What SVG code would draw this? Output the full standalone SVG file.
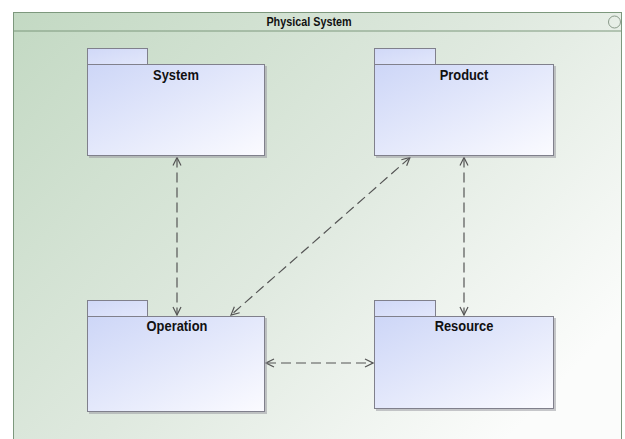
<svg xmlns="http://www.w3.org/2000/svg" width="625" height="439" viewBox="0 0 625 439">
  <defs>
    <linearGradient id="bg" x1="0" y1="0" x2="1" y2="0.7">
      <stop offset="0" stop-color="#c3d9c3"/>
      <stop offset="0.55" stop-color="#dfe9df"/>
      <stop offset="1" stop-color="#fbfcfb"/>
    </linearGradient>
    <linearGradient id="pkg" x1="0" y1="0" x2="1" y2="1">
      <stop offset="0" stop-color="#cdd6f7"/>
      <stop offset="1" stop-color="#fbfbff"/>
    </linearGradient>
    <linearGradient id="tab" x1="0" y1="0" x2="1" y2="1">
      <stop offset="0" stop-color="#d0d8f7"/>
      <stop offset="1" stop-color="#e2e7fb"/>
    </linearGradient>
    <marker id="arr" viewBox="0 0 10 10" refX="9" refY="5" markerWidth="10" markerHeight="10" markerUnits="userSpaceOnUse" orient="auto-start-reverse">
      <path d="M1,1 L9,5 L1,9" fill="none" stroke="#555" stroke-width="1.2"/>
    </marker>
    <style>
      .frame { fill: url(#bg); stroke: #7d987d; stroke-width: 1; }
      .pkg { fill: url(#pkg); stroke: #80808c; stroke-width: 1; }
      .tab { fill: url(#tab); stroke: #80808c; stroke-width: 1; }
      .shadow { fill: #9a9aa2; opacity: 0.55; }
      .name { font-family: "Liberation Sans", Arial, sans-serif; font-weight: bold; font-size: 15px; fill: #111; text-anchor: middle; }
      .title { font-family: "Liberation Sans", Arial, sans-serif; font-weight: bold; font-size: 12px; fill: #111; text-anchor: middle; }
      .dep { fill: none; stroke: #555; stroke-width: 1.2; stroke-dasharray: 10,5; marker-start: url(#arr); marker-end: url(#arr); }
    </style>
  </defs>

  <g id="frame">
    <rect class="frame" x="13.5" y="12.5" width="608" height="440"/>
    <line x1="13.5" y1="31" x2="621.5" y2="31" stroke="#7d987d" stroke-width="1"/>
    <text class="title" transform="translate(309,26) scale(0.9,1)">Physical System</text>
    <circle cx="614.5" cy="22" r="6" fill="none" stroke="#8a9a8a" stroke-width="1"/>
  </g>

  <g id="connectors">
    <line class="dep" x1="177" y1="157.5" x2="177" y2="315"/>
    <line class="dep" x1="410" y1="157.5" x2="231" y2="315"/>
    <line class="dep" x1="464" y1="157.5" x2="464" y2="315"/>
    <line class="dep" x1="266" y1="363" x2="373" y2="363"/>
  </g>

  <g id="System">
    <rect class="shadow" x="89" y="66" width="178" height="92"/>
    <rect class="tab" x="87.5" y="48.5" width="60" height="16"/>
    <rect class="pkg" x="87.5" y="64.5" width="177" height="91"/>
    <text class="name" transform="translate(176,80) scale(0.86,1)">System</text>
  </g>

  <g id="Product">
    <rect class="shadow" x="376" y="66" width="180" height="92"/>
    <rect class="tab" x="374.5" y="48.5" width="61" height="16"/>
    <rect class="pkg" x="374.5" y="64.5" width="179" height="91"/>
    <text class="name" transform="translate(464,80) scale(0.86,1)">Product</text>
  </g>

  <g id="Operation">
    <rect class="shadow" x="89" y="318" width="178" height="96"/>
    <rect class="tab" x="87.5" y="300.5" width="60" height="16"/>
    <rect class="pkg" x="87.5" y="316.5" width="177" height="95"/>
    <text class="name" transform="translate(177,331) scale(0.86,1)">Operation</text>
  </g>

  <g id="Resource">
    <rect class="shadow" x="376" y="318" width="180" height="93"/>
    <rect class="tab" x="374.5" y="300.5" width="61" height="16"/>
    <rect class="pkg" x="374.5" y="316.5" width="179" height="92"/>
    <text class="name" transform="translate(464,331) scale(0.86,1)">Resource</text>
  </g>
</svg>
